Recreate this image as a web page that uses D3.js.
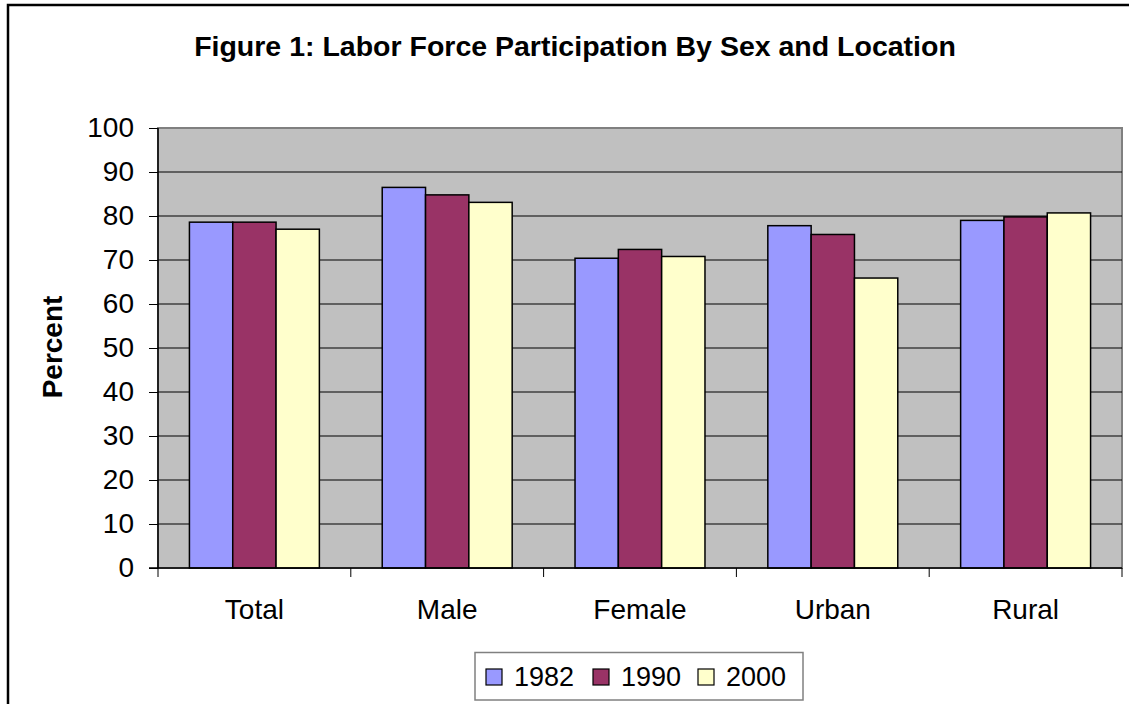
<!DOCTYPE html>
<html>
<head>
<meta charset="utf-8" />
<title>Labor Force Participation</title>
<style>
html, body {
  margin: 0;
  padding: 0;
  background-color: #FFFFFF;
}
svg text {
  font-family: "Liberation Sans", Arial, sans-serif;
}
</style>
</head>
<body>
<script src="https://d3js.org/d3.v7.min.js"></script>
<script>

// data
var categories = ["Total", "Male", "Female", "Urban", "Rural"];
var years = ["1982", "1990", "2000"];
var values1982 = [78.6, 86.5, 70.4, 77.8, 79.0];
var values1990 = [78.6, 84.8, 72.4, 75.8, 79.8];
var values2000 = [77.0, 83.1, 70.8, 65.9, 80.7];
var yTicks = [0, 10, 20, 30, 40, 50, 60, 70, 80, 90, 100];
var colors = ["#9999FF", "#993366", "#FFFFCC"];

var series = [values1982, values1990, values2000];

var W = 1129, H = 704;
var plotL = 158, plotR = 1122, plotT = 128, plotB = 568;

var svg = d3.select("body").append("svg")
  .attr("width", W)
  .attr("height", H);

// outer chart border
svg.append("rect")
  .attr("x", 8).attr("y", 5)
  .attr("width", 1140).attr("height", 720)
  .attr("fill", "#fff")
  .attr("stroke", "#000")
  .attr("stroke-width", 2.5);

var x0 = d3.scaleBand()
  .domain(categories)
  .range([plotL, plotR])
  .paddingInner(0.326)
  .paddingOuter(0.163);

var x1 = d3.scaleBand()
  .domain(years)
  .range([0, x0.bandwidth()]);

var y = d3.scaleLinear()
  .domain([0, 100])
  .range([plotB, plotT]);

// plot area
svg.append("rect")
  .attr("x", plotL).attr("y", plotT)
  .attr("width", plotR - plotL).attr("height", plotB - plotT)
  .attr("fill", "#C0C0C0")
  .attr("stroke", "#808080")
  .attr("stroke-width", 2);

// gridlines
svg.append("g")
  .selectAll("line")
  .data(yTicks.filter(function(d){ return d > 0 && d < 100; }))
  .enter().append("line")
  .attr("x1", plotL).attr("x2", plotR)
  .attr("y1", function(d){ return y(d); })
  .attr("y2", function(d){ return y(d); })
  .attr("stroke", "#000")
  .attr("stroke-width", 1);

// bars
var groups = svg.append("g")
  .selectAll("g")
  .data(categories)
  .enter().append("g")
  .attr("transform", function(d){ return "translate(" + x0(d) + ",0)"; });

groups.selectAll("rect")
  .data(function(d, i){
    return years.map(function(yr, j){ return {year: yr, value: series[j][i], idx: j}; });
  })
  .enter().append("rect")
  .attr("x", function(d){ return x1(d.year); })
  .attr("y", function(d){ return y(d.value); })
  .attr("width", x1.bandwidth())
  .attr("height", function(d){ return plotB - y(d.value); })
  .attr("fill", function(d){ return colors[d.idx]; })
  .attr("stroke", "#000")
  .attr("stroke-width", 1.5);

// y axis
var yAxis = svg.append("g")
  .attr("transform", "translate(" + plotL + ",0)")
  .call(d3.axisLeft(y).tickValues(yTicks).tickSize(9).tickPadding(15));
yAxis.selectAll("text")
  .attr("font-size", "28px")
  .attr("fill", "#000")
  .style("font-family", "'Liberation Sans', Arial, sans-serif");
yAxis.selectAll("line").attr("stroke", "#000");
yAxis.select(".domain").attr("stroke", "#000").attr("stroke-width", 1.5)
  .attr("d", "M0," + plotT + "V" + plotB);

// x axis
var xAxis = svg.append("g")
  .attr("transform", "translate(0," + plotB + ")");
xAxis.append("line")
  .attr("x1", plotL - 9).attr("x2", plotR)
  .attr("stroke", "#000").attr("stroke-width", 1.5);
var boundaries = categories.map(function(c){ return x0(c) - x0.step() * x0.paddingInner() / 2; });
boundaries.push(plotR);
boundaries[0] = plotL;
xAxis.selectAll(".tk")
  .data(boundaries)
  .enter().append("line")
  .attr("class", "tk")
  .attr("x1", function(d){ return d; })
  .attr("x2", function(d){ return d; })
  .attr("y1", 0).attr("y2", 9)
  .attr("stroke", "#000");
xAxis.selectAll(".lbl")
  .data(categories)
  .enter().append("text")
  .attr("class", "lbl")
  .attr("x", function(d){ return x0(d) + x0.bandwidth() / 2; })
  .attr("y", 51)
  .attr("text-anchor", "middle")
  .attr("font-size", "28px")
  .text(function(d){ return d; });

// title
svg.append("text")
  .attr("x", 575).attr("y", 56)
  .attr("text-anchor", "middle")
  .attr("font-size", "28.5px")
  .attr("font-weight", "bold")
  .text("Figure 1: Labor Force Participation By Sex and Location");

// y label
svg.append("text")
  .attr("transform", "translate(62,347) rotate(-90)")
  .attr("text-anchor", "middle")
  .attr("font-size", "28px")
  .attr("font-weight", "bold")
  .text("Percent");

// legend
var legend = svg.append("g");
legend.append("rect")
  .attr("x", 475).attr("y", 652.5)
  .attr("width", 328).attr("height", 47.5)
  .attr("fill", "#fff")
  .attr("stroke", "#808080")
  .attr("stroke-width", 1.5);
var legendX = [486, 593, 698];
var items = legend.selectAll(".item")
  .data(years)
  .enter().append("g")
  .attr("class", "item")
  .attr("transform", function(d, i){ return "translate(" + legendX[i] + ",669)"; });
items.append("rect")
  .attr("width", 16).attr("height", 16)
  .attr("fill", function(d, i){ return colors[i]; })
  .attr("stroke", "#000")
  .attr("stroke-width", 1.2);
items.append("text")
  .attr("x", 28).attr("y", 17)
  .attr("font-size", "27px")
  .text(function(d){ return d; });

</script>
</body>
</html>
